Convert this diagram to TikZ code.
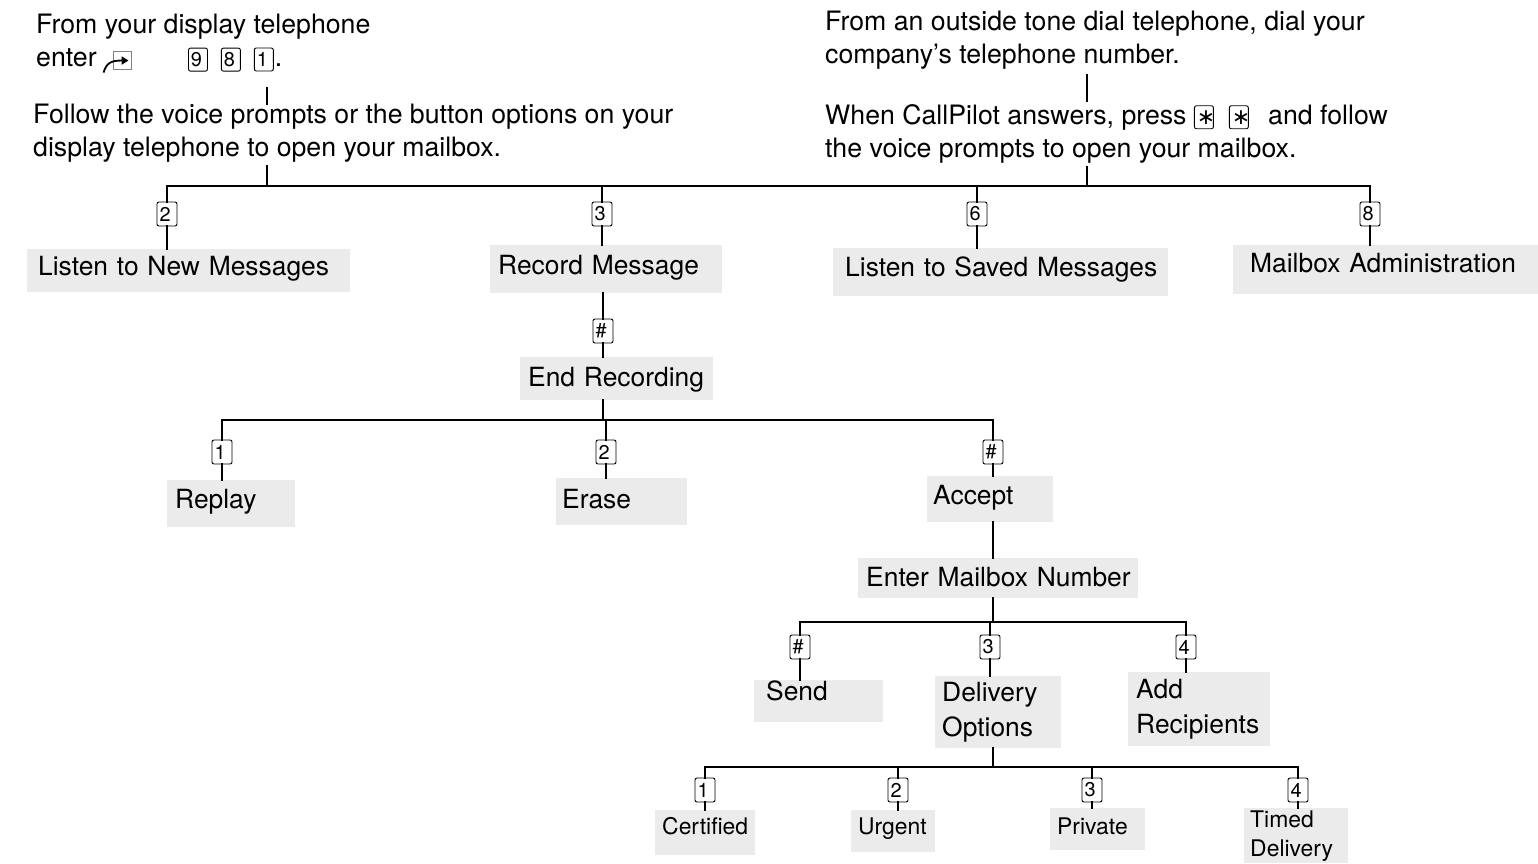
\documentclass[tikz,border=0pt]{standalone}
\usepackage{fontspec}
\setmainfont{TeX Gyre Heros}
\newfontfamily\symfont{DejaVu Sans}
\usetikzlibrary{arrows.meta}

\definecolor{boxgray}{RGB}{235,235,235}
\newcommand\keyfont{\fontsize{20}{22}\selectfont}
\newcommand\menufont{\fontsize{26.5}{35}\selectfont}
\newcommand\smallmenufont{\fontsize{23}{29}\selectfont}
\newcommand\prosefont{\fontsize{26.8}{33}\selectfont}

\tikzset{
  keycap/.style={draw, rounded corners=2bp, line width=0.9bp, fill=white, font=\keyfont,
    inner xsep=2.5bp, inner ysep=0bp, text width=15bp, align=left, minimum height=24bp},
  wire/.style={line width=2.9bp, line cap=rect},
  menu/.style={fill=boxgray, anchor=north west, inner xsep=8bp, inner ysep=0bp, align=left, font=\menufont},
  prose/.style={anchor=north west, inner sep=0bp, align=left, font=\prosefont},
}

% keys and the feature key inside running text
\newcommand\kbd[1]{\tikz[baseline=(kb.base),x=1bp,y=1bp]\node[keycap,text width=14bp,minimum height=23bp](kb){#1};}
\newcommand\starkey{\kbd{{\symfont\fontsize{22}{22}\selectfont ∗}}}
\newcommand\featkey{\tikz[baseline=0bp,x=1bp,y=1bp]{%
  \draw[gray,line width=1bp] (10,-3) rectangle (28,15);
  \draw[line width=1.8bp,-{Triangle[length=7bp,width=8bp]}] (0,-6) .. controls (3,4) and (8,6) .. (25,6);}}

\begin{document}
\begin{tikzpicture}[x=1bp,y=-1bp]
  \useasboundingbox (0,0) rectangle (1538,863);

  % how to reach the mailbox
  \node[prose] (fromdisp) at (36,14) {From your display telephone\\enter\hspace{6bp}\featkey\hspace{56bp}\kbd{9}\hspace{13bp}\kbd{8}\hspace{13bp}\kbd{1}\hspace{1bp}.};
  \node[prose] (follow) at (33,104) {Follow the voice prompts or the button options on your\\display telephone to open your mailbox.};
  \node[prose] (outside) at (825,11) {From an outside tone dial telephone, dial your\\company’s telephone number.};
  \node[prose] (callpilot) at (825,104) {When CallPilot answers, press \starkey\hspace{15bp}\starkey\hspace{12bp} and follow\\the voice prompts to open your mailbox.};

  \coordinate (bus1) at (267,186);
  \coordinate (bus1r) at (1087,186);
  \draw[wire] ([yshift=-15bp]fromdisp.south -| bus1) -- (follow.north -| bus1);
  \draw[wire] ([yshift=-4bp]follow.south -| bus1) -- (bus1);
  \draw[wire] ([yshift=-6bp]outside.south -| bus1r) -- ([yshift=3bp]callpilot.north -| bus1r);
  \draw[wire] ([yshift=-4bp]callpilot.south -| bus1r) -- (bus1r);

  % main menu
  \node[keycap] (k2) at (167,214) {2};
  \node[keycap] (k3) at (602,214) {3};
  \node[keycap] (k6) at (977,214) {6};
  \node[keycap] (k8) at (1370,214) {8};
  \node[menu, inner xsep=11bp, text width=301bp, text height=26bp, text depth=17bp] (new) at (27,249) {\mbox{Listen to New Messages}};
  \node[menu, text width=216bp, text height=29bp, text depth=19bp] (rec) at (490,245) {\mbox{Record Message}};
  \node[menu, inner xsep=12bp, text width=311bp, text height=28bp, text depth=20bp] (saved) at (833,248) {\mbox{Listen to Saved Messages}};
  \node[menu, inner xsep=17bp, text width=271bp, text height=27bp, text depth=22bp] (admin) at (1233,245) {\mbox{Mailbox Administration}};

  \draw[wire] (k2.north) |- (k8.north |- bus1) -- (k8.north);
  \foreach \k/\b in {k2/new, k3/rec, k6/saved, k8/admin}{
    \draw[wire] (\k.north) -- (\k.north |- bus1);
    \draw[wire] (\k.south) -- (\k.south |- \b.north);
  }

  % recording
  \node[keycap] (kend) at (603,331) {\#};
  \node[menu, text width=177bp, text height=29bp, text depth=14bp] (endrec) at (520,357) {\mbox{End Recording}};
  \draw[wire] (rec.south -| kend) -- (kend.north);
  \draw[wire] (kend.south) -- (endrec.north -| kend);

  \coordinate (bus2) at (603,420);
  \node[keycap] (kreplay) at (222,452) {1};
  \node[keycap] (kerase) at (606,452) {2};
  \node[keycap] (kaccept) at (993,452) {\#};
  \node[menu, text width=112bp, text height=28bp, text depth=19bp] (replay) at (167,480) {Replay};
  \node[menu, inner xsep=6bp, text width=119bp, text height=30bp, text depth=17bp] (erase) at (556,478) {Erase};
  \node[menu, inner xsep=6bp, text width=114bp, text height=28bp, text depth=18bp] (accept) at (927,476) {Accept};

  \draw[wire] (endrec.south -| bus2) -- (bus2);
  \draw[wire] (kreplay.north) |- (kaccept.north |- bus2) -- (kaccept.north);
  \draw[wire] (kerase.north) -- (kerase.north |- bus2);
  \foreach \k/\b in {kreplay/replay, kerase/erase, kaccept/accept}
    \draw[wire] (\k.south) -- (\k.south |- \b.north);

  % addressing
  \node[menu, text width=264bp, text height=28bp, text depth=12bp] (entermb) at (858,558) {\mbox{Enter Mailbox Number}};
  \draw[wire] (accept.south -| kaccept) -- (entermb.north -| kaccept);

  \coordinate (bus3) at (993,622);
  \node[keycap] (ksend) at (800,647) {\#};
  \node[keycap] (kdeliv) at (990,647) {3};
  \node[keycap] (kadd) at (1186,647) {4};
  \node[menu, inner xsep=12bp, text width=105bp, text height=20bp, text depth=22bp] (send) at (754,680) {Send};
  \node[menu, inner xsep=7bp, text width=112bp, minimum height=72bp] (deliv) at (935,676) {Delivery\\Options};
  \node[menu, text width=126bp, minimum height=74bp] (add) at (1128,672) {Add\\Recipients};

  \draw[wire] (entermb.south -| bus3) -- (bus3);
  \draw[wire] (ksend.north) |- (kadd.north |- bus3) -- (kadd.north);
  \draw[wire] (kdeliv.north) -- (kdeliv.north |- bus3);
  \foreach \k/\b in {ksend/send, kdeliv/deliv, kadd/add}
    \draw[wire] (\k.south) -- (\k.south |- \b.north);

  % delivery options
  \coordinate (bus4) at (993,767);
  \node[keycap] (kcert) at (705,790) {1};
  \node[keycap] (kurg) at (898,790) {2};
  \node[keycap] (kpriv) at (1092,790) {3};
  \node[keycap] (ktimed) at (1298,790) {4};
  \node[menu, font=\smallmenufont, inner xsep=7bp, text width=86bp, text height=24bp, text depth=21bp] (cert) at (655,810) {Certified};
  \node[menu, font=\smallmenufont, inner xsep=7bp, text width=70bp, text height=24bp, text depth=18bp] (urg) at (851,810) {Urgent};
  \node[menu, font=\smallmenufont, inner xsep=7bp, text width=81bp, text height=26bp, text depth=16bp] (priv) at (1050,808) {Private};
  \node[menu, font=\smallmenufont, inner xsep=6bp, text width=92bp, minimum height=55bp] (timed) at (1244,808) {Timed\\Delivery};

  \draw[wire] (deliv.south -| bus4) -- (bus4);
  \draw[wire] (kcert.north) |- (ktimed.north |- bus4) -- (ktimed.north);
  \foreach \k in {kurg, kpriv}
    \draw[wire] (\k.north) -- (\k.north |- bus4);
  \foreach \k/\b in {kcert/cert, kurg/urg, kpriv/priv, ktimed/timed}
    \draw[wire] (\k.south) -- (\k.south |- \b.north);
\end{tikzpicture}
\end{document}
